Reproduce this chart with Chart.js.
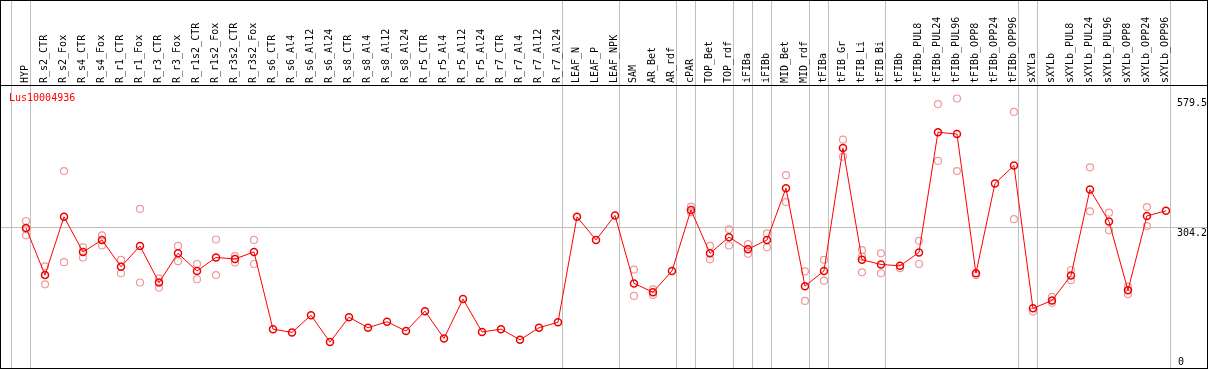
<!DOCTYPE html>
<html>
<head>
<meta charset="utf-8">
<script src="https://cdn.jsdelivr.net/npm/chart.js@4"></script>
<style>
  body { margin: 0; background: #fff; }
  #wrap { width: 1209px; height: 370px; }
</style>
</head>
<body>
<div id="wrap"><canvas id="chart" width="1209" height="370"></canvas></div>
<script>
const geneName = "Lus10004936";

const labels = ["HYP", "R_s2_CTR", "R_s2_Fox", "R_s4_CTR", "R_s4_Fox", "R_r1_CTR", "R_r1_Fox", "R_r3_CTR", "R_r3_Fox",
  "R_r1s2_CTR", "R_r1s2_Fox", "R_r3s2_CTR", "R_r3s2_Fox", "R_s6_CTR", "R_s6_Al4", "R_s6_Al12", "R_s6_Al24",
  "R_s8_CTR", "R_s8_Al4", "R_s8_Al12", "R_s8_Al24", "R_r5_CTR", "R_r5_Al4", "R_r5_Al12", "R_r5_Al24",
  "R_r7_CTR", "R_r7_Al4", "R_r7_Al12", "R_r7_Al24", "LEAF_N", "LEAF_P", "LEAF_NPK", "SAM", "AR_Bet", "AR_rdf",
  "cPAR", "TOP_Bet", "TOP_rdf", "iFIBa", "iFIBb", "MID_Bet", "MID_rdf", "tFIBa", "tFIB_Gr", "tFIB_Li", "tFIB_Bi",
  "tFIBb", "tFIBb_PUL8", "tFIBb_PUL24", "tFIBb_PUL96", "tFIBb_OPP8", "tFIBb_OPP24", "tFIBb_OPP96",
  "sXYLa", "sXYLb", "sXYLb_PUL8", "sXYLb_PUL24", "sXYLb_PUL96", "sXYLb_OPP8", "sXYLb_OPP24", "sXYLb_OPP96"];

// mean expression per sample
const means = [303, 201, 327, 251, 277, 219, 264, 185, 248,
  210, 239, 236, 251, 84, 77, 114, 56,
  110, 87, 100, 80, 123, 64, 149, 78,
  84, 61, 87, 99, 327, 277, 330, 183, 164, 210,
  342, 248, 283, 257, 277, 389, 177, 210, 476, 234, 224,
  221, 250, 510, 506, 205, 399, 438,
  129, 146, 200, 386, 317, 168, 329, 340];

// replicate values (light circles)
const replicates = [[318, 300, 287], [220, 201, 181], [426, 229], [261, 239], [287, 265], [234, 205], [344, 185], [194, 174], [264, 231],
  [225, 192], [278, 201], [242, 228], [277, 225], [], [], [], [],
  [], [], [], [], [], [], [], [],
  [], [], [], [], [], [], [], [213, 156], [170, 158], [],
  [349, 337], [264, 235], [300, 265], [268, 247], [291, 261], [417, 359], [209, 145], [234, 189], [494, 457], [255, 241, 207], [248, 205],
  [216], [275, 225], [571, 448], [583, 426], [201], [], [554, 322],
  [122], [154, 141], [212, 190], [434, 339], [336, 298], [176, 160], [348, 307], []];

const axisTicks = [0, 304.2, 579.5];
const groupEnds = [-1, 0, 28, 31, 34, 35, 37, 38, 39, 41, 42, 45, 52, 53, 60];

const monoFont = "10px 'DejaVu Sans Mono', monospace";

const linePoints = means.map((v, i) => ({ x: i, y: v }));
const repPoints = [];
replicates.forEach((list, i) => list.forEach(v => repPoints.push({ x: i, y: v })));

const decorations = {
  id: 'decorations',
  beforeDatasetsDraw(chart) {
    const ctx = chart.ctx;
    const xs = chart.scales.x, ys = chart.scales.y;
    const W = chart.width;
    ctx.save();
    ctx.fillStyle = '#fff';
    ctx.fillRect(0, 0, W, chart.height);

    // group separators
    ctx.strokeStyle = '#c0c0c0';
    ctx.lineWidth = 1;
    groupEnds.forEach(g => {
      const x = Math.round(xs.getPixelForValue(g + 0.21)) + 0.5;
      ctx.beginPath();
      ctx.moveTo(x, 0);
      ctx.lineTo(x, 369);
      ctx.stroke();
    });

    // horizontal grid line at middle tick
    const gy = Math.round(ys.getPixelForValue(axisTicks[1])) + 0.5;
    ctx.beginPath();
    ctx.moveTo(0, gy);
    ctx.lineTo(1207, gy);
    ctx.stroke();

    // column labels
    ctx.fillStyle = '#000';
    ctx.font = monoFont;
    ctx.textAlign = 'left';
    ctx.textBaseline = 'alphabetic';
    labels.forEach((lab, i) => {
      const x = xs.getPixelForValue(i);
      ctx.save();
      ctx.translate(Math.round(x) + 2, 83);
      ctx.rotate(-Math.PI / 2);
      ctx.fillText(lab, 0, 0);
      ctx.restore();
    });

    // gene name
    ctx.fillStyle = '#ff0000';
    ctx.fillText(geneName, 9, 101);

    // value labels on the right
    ctx.fillStyle = '#000';
    ctx.fillText(String(axisTicks[2]), 1177, 106);
    ctx.fillText(String(axisTicks[1]), 1177, 236);
    ctx.fillText(String(axisTicks[0]), 1178, 365);
    ctx.restore();
  },
  afterDraw(chart) {
    const ctx = chart.ctx;
    ctx.save();
    ctx.strokeStyle = '#000';
    ctx.lineWidth = 1;
    ctx.beginPath();
    ctx.moveTo(0, 0.5); ctx.lineTo(1208, 0.5);
    ctx.moveTo(0, 85.5); ctx.lineTo(1208, 85.5);
    ctx.moveTo(0, 368.5); ctx.lineTo(1208, 368.5);
    ctx.moveTo(0.5, 0); ctx.lineTo(0.5, 369);
    ctx.moveTo(1207.5, 0); ctx.lineTo(1207.5, 369);
    ctx.stroke();
    ctx.restore();
  }
};

new Chart(document.getElementById('chart'), {
  type: 'line',
  data: {
    datasets: [
      {
        label: 'mean',
        data: linePoints,
        borderColor: '#ff0000',
        borderWidth: 1,
        pointRadius: 3.5,
        pointBorderWidth: 1.5,
        pointBorderColor: '#ee0000',
        pointBackgroundColor: 'rgba(0,0,0,0)',
        tension: 0,
        fill: false
      },
      {
        label: 'replicates',
        data: repPoints,
        showLine: false,
        pointRadius: 3.5,
        pointBorderWidth: 1.2,
        pointBorderColor: '#ee9a9a',
        pointBackgroundColor: 'rgba(0,0,0,0)'
      }
    ]
  },
  options: {
    responsive: false,
    animation: false,
    layout: { autoPadding: false, padding: { top: 86, left: 1, right: 2, bottom: 2 } },
    scales: {
      x: { type: 'linear', min: -1.316, max: 62.16, display: false },
      y: { min: 0, max: 610, display: false }
    },
    plugins: {
      legend: { display: false },
      tooltip: { enabled: false },
      title: { display: false }
    }
  },
  plugins: [decorations]
});
</script>
</body>
</html>
